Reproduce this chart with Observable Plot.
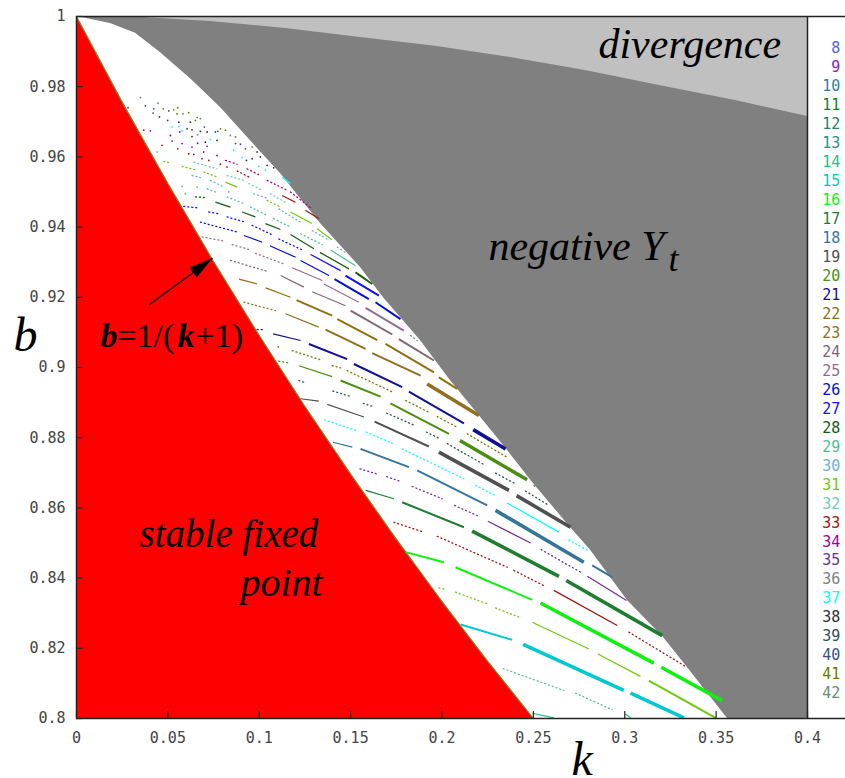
<!DOCTYPE html>
<html>
<head>
<meta charset="utf-8">
<style>html,body{margin:0;padding:0;background:#fff}svg{display:block}</style>
<script src="https://cdn.jsdelivr.net/npm/d3@7"></script>
<script src="https://cdn.jsdelivr.net/npm/@observablehq/plot@0.6"></script>
</head>
<body>
<div id="chart"></div>
<script>
const periods = [8,9,10,11,12,13,14,15,16,17,18,19,20,21,22,23,24,25,26,27,28,29,30,31,32,33,34,35,36,37,38,39,40,41,42];
const periodColors = ["#5060e0","#9020c0","#2a80a0","#10801a","#208860","#209090","#10c878","#00c8d0","#10f010","#1f7d30","#35759a","#505050","#4a9010","#101090","#907010","#907020","#806870","#907090","#0010d0","#1010ff","#106010","#50c090","#70b0d0","#70c810","#70d0b0","#a01010","#a000a0","#703090","#808080","#00ffff","#303030","#305050","#305090","#608000","#609070"];
const xTicks = [0,0.05,0.1,0.15,0.2,0.25,0.3,0.35,0.4];
const yTicks = [0.8,0.82,0.84,0.86,0.88,0.9,0.92,0.94,0.96,0.98,1];

// [k, b]
const stableEdge = [[0,1],[0.025,0.9756],[0.05,0.9524],[0.075,0.9302],[0.1,0.9091],[0.125,0.8889],[0.15,0.8696],[0.175,0.8511],[0.2,0.8333],[0.225,0.8163],[0.25,0.8]];
const negativeEdge = [[0,1],[0.0186,0.998],[0.0323,0.9952],[0.046,0.9897],[0.0624,0.9823],[0.0788,0.9741],[0.0936,0.9655],[0.1116,0.9553],[0.1335,0.941],[0.1554,0.9285],[0.168,0.9199],[0.1882,0.9077],[0.2046,0.8963],[0.2211,0.8858],[0.2358,0.8764],[0.2501,0.8669],[0.2703,0.8544],[0.2813,0.8479],[0.3015,0.8336],[0.3212,0.8231],[0.3343,0.8145],[0.3562,0.8]];
const divergenceEdge = [[0,1],[0.0361,0.9997],[0.0733,0.9986],[0.1144,0.9966],[0.1554,0.994],[0.1964,0.9915],[0.2375,0.9883],[0.2785,0.9846],[0.3196,0.9803],[0.3606,0.9761],[0.4,0.9715]];

// [period, k0, b0, k1, b1]
const dottedStreaks = [
[29,.2335,.8142,.2667,.8080],[29,.2731,.8072,.2931,.8025],
[31,.1983,.8372,.2019,.8368],[31,.2074,.8360,.2247,.8327],[31,.2293,.8315,.2430,.8287],
[33,.1737,.8559,.1901,.8531],[33,.1974,.8519,.2357,.8431],[33,.2393,.8422,.2567,.8376],[33,.3023,.8246,.3333,.8148],
[35,.1551,.8711,.1642,.8697],[35,.1697,.8689,.1770,.8676],[35,.1837,.8661,.2001,.8626],[35,.2069,.8607,.2193,.8578],[35,.2543,.8481,.2758,.8417],
[37,.1357,.8851,.1527,.8821],[37,.1585,.8816,.1728,.8784],[37,.1782,.8768,.2120,.8683],[37,.2184,.8664,.2293,.8635],[37,.2694,.8509,.2798,.8479],
[39,.1217,.8963,.1244,.8958],[39,.1403,.8933,.1496,.8918],[39,.1569,.8898,.1631,.8887],[39,.1697,.8870,.1850,.8835],[39,.1915,.8816,.1988,.8797],[39,.2029,.8783,.2238,.8721],[39,.2293,.8699,.2408,.8667],[39,.2457,.8648,.2576,.8610],
[20,.1107,.9018,.1168,.9012],[20,.2503,.8664,.2517,.8657],
[41,.1180,.9048,.1335,.9022],[41,.1399,.9005,.1445,.8999],[41,.1481,.8991,.1737,.8928],[41,.1801,.8906,.1937,.8870],[41,.1974,.8860,.2083,.8830],[41,.2138,.8811,.2357,.8744],
[21,.0989,.9108,.1025,.9108],
[23,.0916,.9186,.1089,.9162],
[24,.0843,.9305,.1044,.9274],
[25,.0687,.9372,.0806,.9360],[25,.0852,.9350,.0952,.9335],[25,.0980,.9325,.1135,.9295],[25,.1828,.9091,.1864,.9077],
[26,.0678,.9414,.0879,.9386],
[27,.0587,.9459,.0660,.9455],[27,.0724,.9443,.0778,.9438],[27,.0824,.9429,.0924,.9414],[27,.0961,.9405,.1079,.9376],[27,.1107,.9366,.1244,.9333],
[28,.0651,.9486,.0705,.9484],
[29,.0715,.9509,.0760,.9500],[29,.0824,.9486,.0915,.9467],[29,.0952,.9457,.1043,.9433],[29,.1079,.9424,.1171,.9400],[29,.1226,.9381,.1345,.9350],
[30,.0632,.9547,.0678,.9541],[30,.0733,.9533,.0806,.9514],[30,.0970,.9495,.1052,.9481],[30,.1107,.9452,.1225,.9414],[30,.1290,.9390,.1381,.9363],[30,.1427,.9343,.1481,.9324],
[31,.0477,.9587,.0514,.9583],[31,.0578,.9573,.0660,.9562],[31,.0696,.9557,.0769,.9543],[31,.1043,.9476,.1116,.9457],
[32,.0642,.9585,.0769,.9566],[32,.0824,.9547,.0915,.9533],[32,.0943,.9524,.1016,.9505],[32,.1061,.9495,.1152,.9468],
[33,.0879,.9560,.0943,.9543],
[34,.0815,.9590,.0879,.9579],[34,.0933,.9566,.1006,.9547],[34,.1043,.9533,.1152,.9505],[34,.1171,.9500,.1289,.9452]
];
const thinStreaks = [
[14,.2494,.8015,.2612,.8002],[14,.3004,.8013,.3032,.8002],
[31,.2494,.8274,.2804,.8198],[31,.2853,.8184,.3086,.8120],
[33,.2612,.8365,.2959,.8265],
[17,.1582,.8650,.1737,.8626],
[35,.2251,.8562,.2485,.8500],[35,.2795,.8405,.3010,.8336],
[18,.1403,.8787,.1509,.8773],
[37,.2357,.8614,.2640,.8531],
[19,.1226,.8911,.1326,.8904],[19,.1372,.8895,.1573,.8859],
[20,.1217,.9005,.1399,.8974],
[21,.1076,.9096,.1226,.9077],
[23,.1144,.9153,.1326,.9115],
[22,.0889,.9252,.0989,.9238],[22,.1035,.9227,.1171,.9200],
[24,.1117,.9262,.1244,.9229],[24,.1290,.9216,.1472,.9176],
[25,.1180,.9284,.1345,.9248],[25,.1354,.9238,.1545,.9186],
[26,.0916,.9376,.1016,.9357],[26,.1058,.9347,.1199,.9314],[26,.1226,.9305,.1381,.9262],
[27,.1281,.9322,.1445,.9276],
[28,.0760,.9471,.0842,.9457],[28,.0906,.9443,.0979,.9429],[28,.1034,.9410,.1116,.9393],[28,.1171,.9379,.1299,.9338],[28,.1332,.9328,.1491,.9281],
[29,.1390,.9335,.1527,.9290],
[31,.0815,.9528,.0879,.9514],[31,.1171,.9443,.1289,.9410],[31,.1316,.9395,.1399,.9364],
[33,.1125,.9490,.1198,.9471],[33,.1253,.9448,.1326,.9424],
[37,.1125,.9543,.1171,.9524]
];
const mediumStreaks = [
[15,.2102,.8268,.2384,.8224],
[31,.3132,.8108,.3497,.8002],
[16,.1801,.8474,.2010,.8445],[16,.2074,.8431,.2494,.8338],
[17,.1782,.8616,.2120,.8545],
[18,.1554,.8768,.1819,.8716],[18,.1864,.8707,.2247,.8607],[18,.2822,.8436,.2931,.8403],
[19,.1631,.8846,.1928,.8775],
[20,.1445,.8963,.1664,.8917],[20,.1718,.8898,.2038,.8811],
[21,.1272,.9067,.1481,.9024],[21,.1518,.9010,.1782,.8944],[21,.1819,.8931,.2120,.8841],
[23,.1363,.9108,.1582,.9053],[23,.1618,.9041,.1883,.8977],
[22,.1204,.9192,.1399,.9148],[22,.1427,.9138,.1646,.9078],[22,.1691,.9067,.1956,.8986],[22,.1983,.8972,.2083,.8939],
[24,.1500,.9162,.1728,.9094],[24,.1764,.9081,.1956,.9020],
[25,.1582,.9170,.1791,.9105],
[26,.1412,.9252,.1600,.9195],[26,.1636,.9186,.1773,.9138],
[27,.1472,.9262,.1655,.9205],
[28,.1527,.9271,.1618,.9238]
];
const thickStreaks = [
[15,.2444,.8211,.2995,.8080],[15,.3032,.8072,.3324,.8002],
[16,.2539,.8329,.3159,.8158],[16,.3200,.8146,.3533,.8051],
[17,.2165,.8534,.2640,.8405],[17,.2680,.8393,.3205,.8236],
[18,.2293,.8593,.2776,.8445],
[19,.1983,.8759,.2366,.8650],[19,.2408,.8635,.2703,.8545],
[20,.2098,.8792,.2466,.8680],
[21,.2171,.8823,.2348,.8768],
[23,.1919,.8953,.2202,.8863]
];
// [period, k, b]
const cloud = [
[42,.0350,.9769],[40,.0282,.9740],[40,.0377,.9745],[42,.0446,.9753],[41,.0474,.9737],[40,.0423,.9737],[40,.0419,.9725],[38,.0454,.9714],[40,.0505,.9731],[41,.0532,.9734],[41,.0554,.9740],[41,.0550,.9723],[42,.0583,.9723],[41,.0614,.9726],[39,.0499,.9704],[38,.0560,.9699],[42,.0660,.9712],[42,.0678,.9709],[41,.0651,.9704],[37,.0523,.9685],[37,.0560,.9687],[37,.0578,.9674],[38,.0605,.9680],[38,.0623,.9699],[38,.0632,.9677],[40,.0700,.9685],[38,.0678,.9673],[38,.0715,.9671],[40,.0760,.9671],[40,.0773,.9673],[41,.0788,.9680],[41,.0815,.9676],[42,.0842,.9661],[41,.0870,.9657],[34,.0368,.9676],[34,.0404,.9674],[34,.0514,.9661],[34,.0523,.9645],[34,.0578,.9638],[34,.0565,.9671],[38,.0632,.9658],[36,.0663,.9663],[34,.0663,.9639],[38,.0705,.9642],[34,.0715,.9630],[37,.0733,.9649],[38,.0769,.9647],[33,.0468,.9633],[33,.0554,.9623],[33,.0614,.9609],[33,.0642,.9607],[33,.0687,.9595],[33,.0724,.9590],[34,.0696,.9614],[34,.0769,.9604],[34,.0632,.9628],[40,.0870,.9638],[40,.0897,.9636],[40,.0924,.9623],[41,.0961,.9628],[37,.0860,.9619],[37,.0906,.9598],[38,.0930,.9590],[38,.0961,.9595],[39,.0988,.9614],[38,.1006,.9600],[38,.1043,.9576],[38,.1079,.9569],[37,.0997,.9573],[37,.1034,.9562],[33,.0788,.9579],[33,.0824,.9571],[32,.0441,.9614],[29,.0596,.9495],[29,.0660,.9514],[30,.0833,.9500],[30,.0578,.9516],[41,.1104,.9059]
];
const labels = [
 {text:"divergence", k:.2856, b:.9883, size:42, style:"italic", weight:400},
 {text:"negative Y", k:.2254, b:.9305, size:42, style:"italic", weight:400},
 {text:"t", k:.3239, b:.9276, size:36, style:"italic", weight:400},
 {text:"stable fixed", k:.0345, b:.8490, size:39, style:"italic", weight:400},
 {text:"point", k:.0897, b:.8348, size:40, style:"italic", weight:400},
 {text:"b", k:.0131, b:.9057, size:34, style:"italic", weight:700},
 {text:"=1/(", k:.0224, b:.9057, size:34, style:"normal", weight:400},
 {text:"k", k:.0553, b:.9057, size:34, style:"italic", weight:700},
 {text:"+1)", k:.0651, b:.9057, size:34, style:"normal", weight:400},
 {text:"b", k:-.0345, b:.9048, size:48, style:"italic", weight:400},
 {text:"k", k:.2709, b:.7840, size:48, style:"italic", weight:400}
];
const arrowLine = [{k0:.0399,b0:.9179,k1:.0744,b1:.9311}];

const colorOf = p => periodColors[periods.indexOf(p)];
const mono = "'DejaVu Sans Mono', monospace";
const serif = "'Liberation Serif', serif";
const link = (rows, o) => Plot.link(rows, {x1:d=>d[1], y1:d=>d[2], x2:d=>d[3], y2:d=>d[4], stroke:d=>colorOf(d[0]), ...o});
const band = (rows, fill) => Plot.areaY(rows, {x:d=>d[0], y1:()=>0.8, y2:d=>d[1], fill});

const plot = Plot.plot({
  width:845, height:778,
  marginLeft:76, marginRight:38, marginTop:16, marginBottom:60,
  x:{domain:[0,0.4], axis:null},
  y:{domain:[0.8,1], axis:null},
  color:{type:"identity"},
  style:{background:"#fff", overflow:"visible"},
  marks:[
    Plot.rectY([0],{x1:()=>0, x2:()=>0.4, y1:()=>0.8, y2:()=>1, fill:"#c0c0c0"}),
    band(divergenceEdge,"#808080"),
    band(negativeEdge,"#fff"),
    band(stableEdge,"#ff0000"),
    Plot.line(stableEdge,{x:d=>d[0], y:d=>d[1], stroke:"#808020", strokeWidth:1.2}),
    link(dottedStreaks,{strokeWidth:1.3, strokeDasharray:"1 3", strokeLinecap:"round"}),
    link(thinStreaks,{strokeWidth:1.2}),
    link(mediumStreaks,{strokeWidth:2}),
    link(thickStreaks,{strokeWidth:3.6}),
    Plot.dot(cloud,{x:d=>d[1], y:d=>d[2], r:0.9, fill:d=>colorOf(d[0])}),
    // frame
    Plot.ruleY([1,0.8],{x1:()=>0, x2:()=>0.4208, stroke:"#222", strokeWidth:1.5}),
    Plot.ruleX([0,0.4],{y1:()=>0.8, y2:()=>1, stroke:"#222", strokeWidth:1.5}),
    Plot.ruleX(xTicks,{y1:()=>0.8, y2:()=>0.802, stroke:"#222", strokeWidth:1.2}),
    Plot.ruleY(yTicks,{x1:()=>0, x2:()=>0.0037, stroke:"#222", strokeWidth:1.2}),
    Plot.axisX({ticks:xTicks, tickSize:0, tickPadding:14, tickFormat:d=>String(d), label:null, fontFamily:mono, fontSize:15, fill:"#444"}),
    Plot.axisY({ticks:yTicks, tickSize:0, tickPadding:11, tickFormat:d=>String(d), label:null, fontFamily:mono, fontSize:15, fill:"#444"}),
    // annotations
    ...labels.map(l => Plot.text([l],{x:"k", y:"b", text:"text", textAnchor:"start", lineAnchor:"bottom", fontFamily:serif, fontSize:l.size, fontStyle:l.style, fontWeight:l.weight, fill:"#000"})),
    Plot.link(arrowLine,{x1:"k0", y1:"b0", x2:"k1", y2:"b1", stroke:"#000", strokeWidth:1.2}),
    Plot.vector(arrowLine,{x:"k1", y:"b1", shape:"spike", anchor:"end", length:24, r:6, rotate:53.4, fill:"#000", stroke:"none"}),
    // legend
    Plot.text(periods,{x:()=>0.418, y:(p,i)=>0.9909-i*0.005405, text:p=>String(p), fill:p=>colorOf(p), textAnchor:"end", fontFamily:mono, fontSize:15})
  ]
});
document.getElementById("chart").append(plot);
</script>
</body>
</html>
